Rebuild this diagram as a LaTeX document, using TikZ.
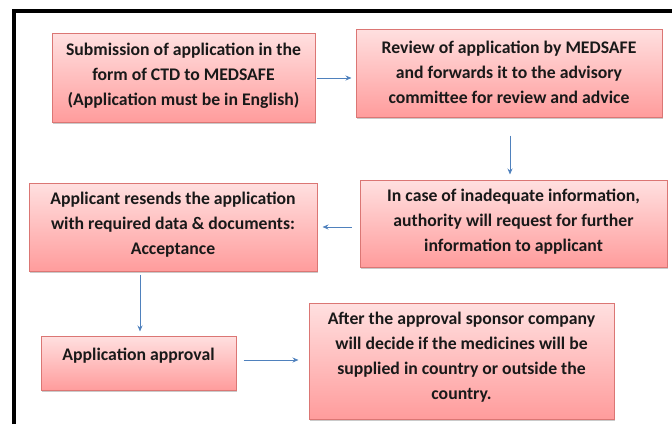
\documentclass[tikz,border=0pt]{standalone}
\usepackage{fontspec}
\setmainfont{Carlito}
\usetikzlibrary{arrows.meta,shadows}
\definecolor{pinktop}{HTML}{FFE0E0}
\definecolor{pinkbot}{HTML}{FF9C9C}
\definecolor{pinkedge}{HTML}{DB7674}
\definecolor{arrowblue}{HTML}{4F81BD}
\tikzset{
  boxstyle/.style={draw=pinkedge, line width=1pt, top color=pinktop, bottom color=pinkbot,
    inner sep=0pt, drop shadow={shadow xshift=1.2pt, shadow yshift=-1.8pt, opacity=0.35, fill=black!60}},
  txt/.style={align=center, inner sep=0pt, font=\fontsize{17.7}{25}\selectfont\bfseries, text=black!90},
  flow/.style={draw=arrowblue, line width=0.9pt, -{Stealth[length=6pt,width=5pt]}}
}
\begin{document}
\begin{tikzpicture}[x=1pt,y=-1pt]
\useasboundingbox (0,0) rectangle (672,424);
% frame
\draw[line width=4.5pt] (14,424) -- (14,11) -- (672,11);
% boxes
\node[boxstyle, minimum width=263pt, minimum height=89pt] (b1) at (183.5,77.5) {};
\node[boxstyle, minimum width=306pt, minimum height=88pt] (b2) at (509,73) {};
\node[boxstyle, minimum width=307pt, minimum height=87pt] (b3) at (513.5,223.5) {};
\node[boxstyle, minimum width=288pt, minimum height=88pt] (b4) at (173,227) {};
\node[boxstyle, minimum width=195pt, minimum height=54pt] (b5) at (138.5,363) {};
\node[boxstyle, minimum width=305pt, minimum height=116pt] (b6) at (461.5,361) {};
% texts
\node[txt] (t1) at (183.5,75.5) {Submission of application in the\\form of CTD to MEDSAFE\\(Application must be in English)};
\node[txt] (t2) at (509,72) {Review of application by MEDSAFE\\and forwards it to the advisory\\committee for review and advice};
\node[txt] (t3) at (513.5,222) {In case of inadequate information,\\authority will request for further\\information to applicant};
\node[txt] (t4) at (173,224.5) {Applicant resends the application\\with required data \& documents:\\Acceptance};
\node[txt] (t5) at (138.5,356) {Application approval};
\node[txt] (t6) at (461.5,357) {After the approval sponsor company\\will decide if the medicines will be\\supplied in country or outside the\\country.};
% arrows
\draw[flow, shorten <=1pt, shorten >=4pt] ([yshift=-0.5pt]b1.east) -- ([yshift=-0.5pt]b1.east -| b2.west);
\draw[flow, shorten <=18pt, shorten >=5pt] ([xshift=1pt]b2.south) -- ([xshift=1pt]b2.south |- b3.north);
\draw[flow, shorten <=8pt, shorten >=5pt] (b3.west |- b4.east) -- (b4.east);
\draw[flow, shorten <=3pt, shorten >=4pt] ([xshift=1.5pt]b5.north |- b4.south) -- ([xshift=1.5pt]b5.north);
\draw[flow, shorten <=7pt, shorten >=10pt] ([yshift=3pt]b5.east) -- ([yshift=3pt]b5.east -| b6.west);
\end{tikzpicture}
\end{document}
